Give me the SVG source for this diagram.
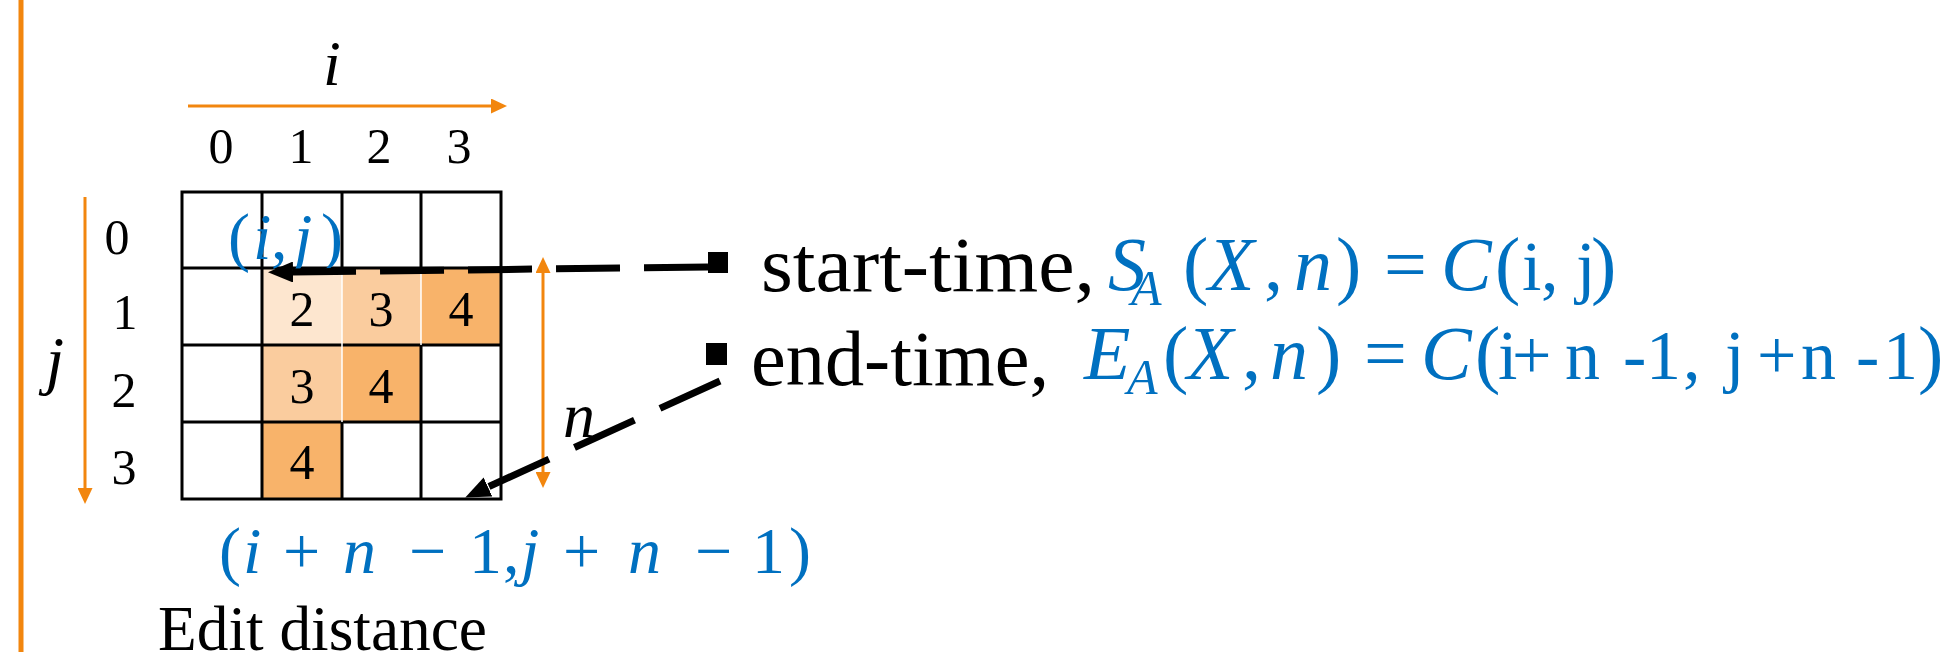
<svg xmlns="http://www.w3.org/2000/svg" width="1954" height="652" viewBox="0 0 1954 652">
<style>
.num{font-family:"Liberation Serif","Times New Roman",serif;font-size:50px;fill:#000;text-anchor:middle}
.it{font-family:"Liberation Serif","Times New Roman",serif;font-style:italic}
.rm{font-family:"Liberation Serif","Times New Roman",serif}
.blue{fill:#0070C0}
.grid{stroke:#000;stroke-width:3;fill:none}
.orange{stroke:#F2860E;stroke-width:3;fill:none}
.dash{stroke:#000;stroke-width:7;fill:none}
.c1{fill:#FDE6CF}.c2{fill:#FACC9E}.c3{fill:#F8B36A}
</style>
<defs>
<marker id="oa" markerUnits="userSpaceOnUse" markerWidth="16" markerHeight="15" refX="0" refY="7.5" orient="auto-start-reverse"><path d="M0,0 L16,7.5 L0,15 z" fill="#F2860E"/></marker>
<marker id="ba" markerUnits="userSpaceOnUse" markerWidth="25" markerHeight="21" refX="0" refY="10.5" orient="auto"><path d="M0,0 L25,10.5 L0,21 z" fill="#000"/></marker>
</defs>
<rect width="1954" height="652" fill="#fff"/>
<g id="side-rule"><line x1="21" y1="0" x2="21" y2="652" stroke="#F2860E" stroke-width="5"/></g>

<g id="grid">
<rect class="c1" x="262" y="268" width="80" height="77"/>
<rect class="c2" x="342" y="268" width="79" height="77"/>
<rect class="c3" x="421" y="268" width="80" height="77"/>
<rect class="c2" x="262" y="345" width="80" height="77"/>
<rect class="c3" x="342" y="345" width="79" height="77"/>
<rect class="c3" x="262" y="422" width="80" height="77"/>
<rect class="grid" x="182" y="192" width="319" height="307"/>
<path class="grid" d="M262,192V499 M342,192V268 M342,422V499 M421,192V268 M421,345V499 M182,268H501 M182,345H501 M182,422H501"/>
<path d="M342,268V422 M421,268V345" stroke="#fff" stroke-width="1.5"/>
<text class="num" x="302" y="326">2</text>
<text class="num" x="381" y="326">3</text>
<text class="num" x="461" y="326">4</text>
<text class="num" x="302" y="403">3</text>
<text class="num" x="381" y="403">4</text>
<text class="num" x="302" y="479">4</text>
</g>

<g id="col-axis">
<text class="it" x="332" y="85" font-size="64" text-anchor="middle">i</text>
<text class="num" x="221" y="163">0</text>
<text class="num" x="301" y="163">1</text>
<text class="num" x="379" y="163">2</text>
<text class="num" x="459" y="163">3</text>
</g>

<g id="row-axis">
<text class="it" x="55" y="382" font-size="66" text-anchor="middle">j</text>
<text class="num" x="117" y="254">0</text>
<text class="num" x="125" y="329">1</text>
<text class="num" x="124" y="407">2</text>
<text class="num" x="124" y="484">3</text>
</g>

<g id="start-label" class="blue" font-size="66">
<text class="rm" x="228" y="259">(</text>
<text class="it" x="253" y="259">i</text>
<text class="rm" x="271" y="259">,</text>
<text class="it" x="294" y="259">j</text>
<text class="rm" x="321" y="259">)</text>
</g>

<g id="end-label" class="blue" font-size="66">
<text class="rm" x="219" y="573">(</text>
<text class="it" x="243" y="573">i</text>
<text class="rm" x="283" y="573">+</text>
<text class="it" x="343" y="573">n</text>
<text class="rm" x="409" y="573">−</text>
<text class="rm" x="469" y="573">1</text>
<text class="rm" x="503" y="573">,</text>
<text class="it" x="521" y="573">j</text>
<text class="rm" x="563" y="573">+</text>
<text class="it" x="628" y="573">n</text>
<text class="rm" x="695" y="573">−</text>
<text class="rm" x="752" y="573">1</text>
<text class="rm" x="789" y="573">)</text>
</g>

<g id="n-label"><text class="it" x="563" y="437" font-size="64">n</text></g>

<g id="caption"><text class="rm" x="158" y="650" font-size="63" textLength="329" lengthAdjust="spacingAndGlyphs">Edit distance</text></g>

<g id="start-time">
<rect x="708" y="252" width="20" height="21" fill="#000"/>
<text class="rm" x="761" y="291" font-size="78" textLength="334" lengthAdjust="spacingAndGlyphs">start-time,</text>
<g class="blue">
<text class="it" x="1108" y="290" font-size="76">S</text>
<text class="it" x="1131" y="305" font-size="50">A</text>
<text class="rm" x="1183" y="290" font-size="76">(</text>
<text class="it" x="1208" y="290" font-size="76">X</text>
<text class="rm" x="1264" y="290" font-size="76">,</text>
<text class="it" x="1294" y="290" font-size="76">n</text>
<text class="rm" x="1336" y="290" font-size="76">)</text>
<text class="rm" x="1384" y="290" font-size="76">=</text>
<text class="it" x="1441" y="290" font-size="76">C</text>
<text class="rm" x="1495" y="290" font-size="76">(</text>
<text class="rm" x="1522" y="290" font-size="70">i</text>
<text class="rm" x="1541" y="290" font-size="70">,</text>
<text class="rm" x="1576" y="290" font-size="70">j</text>
<text class="rm" x="1591" y="290" font-size="76">)</text>
</g>
</g>

<g id="end-time">
<rect x="706" y="343" width="21" height="22" fill="#000"/>
<text class="rm" x="751" y="385" font-size="78" textLength="298" lengthAdjust="spacingAndGlyphs">end-time,</text>
<g class="blue">
<text class="it" x="1084" y="379" font-size="76">E</text>
<text class="it" x="1127" y="394" font-size="50">A</text>
<text class="rm" x="1163" y="379" font-size="76">(</text>
<text class="it" x="1187" y="379" font-size="76">X</text>
<text class="rm" x="1242" y="379" font-size="76">,</text>
<text class="it" x="1270" y="379" font-size="76">n</text>
<text class="rm" x="1316" y="379" font-size="76">)</text>
<text class="rm" x="1364" y="379" font-size="76">=</text>
<text class="it" x="1421" y="379" font-size="76">C</text>
<text class="rm" x="1475" y="379" font-size="76">(</text>
<text class="rm" x="1498" y="379" font-size="70">i</text>
<text class="rm" x="1512" y="379" font-size="70">+</text>
<text class="rm" x="1565" y="379" font-size="70">n</text>
<text class="rm" x="1623" y="379" font-size="70">-</text>
<text class="rm" x="1646" y="379" font-size="70">1</text>
<text class="rm" x="1683" y="379" font-size="70">,</text>
<text class="rm" x="1725" y="379" font-size="70">j</text>
<text class="rm" x="1757" y="379" font-size="70">+</text>
<text class="rm" x="1801" y="379" font-size="70">n</text>
<text class="rm" x="1856" y="379" font-size="70">-</text>
<text class="rm" x="1883" y="379" font-size="70">1</text>
<text class="rm" x="1918" y="379" font-size="76">)</text>
</g>
</g>

<g id="connectors">
<line class="orange" x1="188" y1="106" x2="491" y2="106" marker-end="url(#oa)"/>
<line class="orange" x1="85" y1="197" x2="85" y2="488" marker-end="url(#oa)"/>
<line class="orange" x1="543" y1="273" x2="543" y2="472" marker-start="url(#oa)" marker-end="url(#oa)"/>
<line class="dash" x1="708" y1="267" x2="293" y2="272" stroke-dasharray="64 24" marker-end="url(#ba)"/>
<line class="dash" x1="720" y1="381" x2="488" y2="487" stroke-dasharray="66 28" marker-end="url(#ba)"/>
</g>
</svg>
